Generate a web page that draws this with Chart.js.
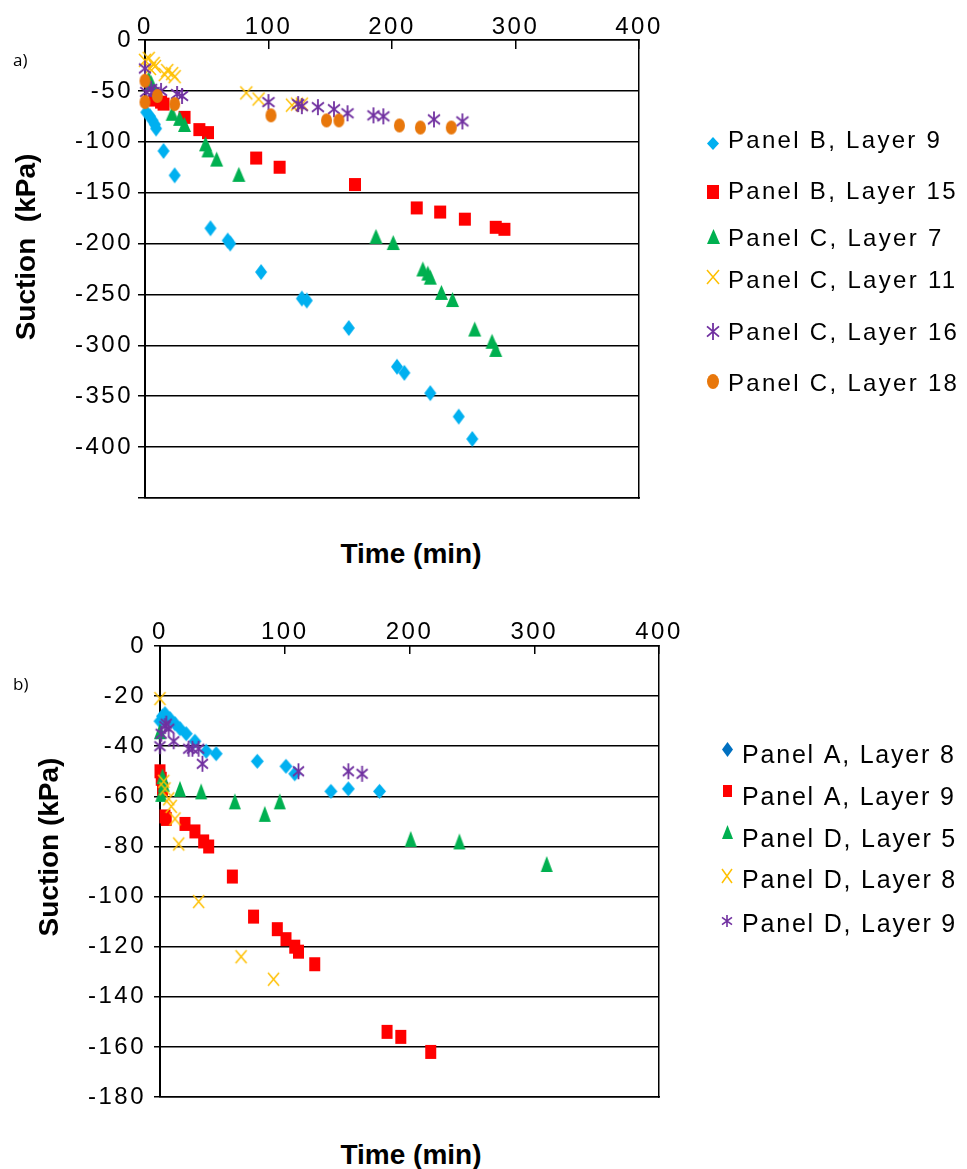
<!DOCTYPE html>
<html>
<head>
<meta charset="utf-8">
<script src="https://cdn.jsdelivr.net/npm/chart.js@4.4.0/dist/chart.umd.min.js"></script>
<style>
html,body{margin:0;padding:0;background:#fff;}
body{width:967px;height:1169px;position:relative;overflow:hidden;font-family:"Liberation Sans",Arial,sans-serif;color:#000;}
.wrap{position:absolute;left:0;}
.title{position:absolute;font-weight:bold;font-size:28px;line-height:32px;height:32px;text-align:center;white-space:pre;}
.rot{transform:rotate(-90deg);}
.panel{position:absolute;font-size:17px;line-height:20px;font-family:"Open Sans","Liberation Sans",sans-serif;}
</style>
</head>
<body>
<div class="wrap" style="top:0px"><canvas id="chartA" width="967" height="520"></canvas></div>
<div class="wrap" style="top:600px"><canvas id="chartB" width="967" height="520"></canvas></div>
<div class="panel" style="left:13px;top:50px;">a)</div>
<div class="panel" style="left:13px;top:674px;">b)</div>
<div class="title" style="left:311px;top:538px;width:200px;">Time (min)</div>
<div class="title" style="left:311px;top:1139px;width:200px;">Time (min)</div>
<div class="title rot" style="left:-104px;top:231px;width:260px;">Suction  (kPa)</div>
<div class="title rot" style="left:-81px;top:831px;width:260px;">Suction (kPa)</div>
<script>
// ---------- tick labels ----------
const xTickValues = [0, 100, 200, 300, 400];
const yTickValuesA = [0, -50, -100, -150, -200, -250, -300, -350, -400, -450];
const yTickLabelsA = ['0', '-50', '-100', '-150', '-200', '-250', '-300', '-350', '-400', ''];
const yTickValuesB = [0, -20, -40, -60, -80, -100, -120, -140, -160, -180];
const yTickLabelsB = ['0', '-20', '-40', '-60', '-80', '-100', '-120', '-140', '-160', '-180'];

// ---------- series names ----------
const seriesNamesA = ['Panel B, Layer 9', 'Panel B, Layer 15', 'Panel C, Layer 7', 'Panel C, Layer 11', 'Panel C, Layer 16', 'Panel C, Layer 18'];
const seriesNamesB = ['Panel A, Layer 8', 'Panel A, Layer 9', 'Panel D, Layer 5', 'Panel D, Layer 8', 'Panel D, Layer 9'];

// ---------- chart a) data (time min, suction kPa) ----------
const timeB9  = [1, 4, 6, 8, 9, 15, 24, 53, 67, 69, 94, 127, 131, 165, 204, 210, 231, 254, 265];
const suctB9  = [-71, -75, -79, -83, -87, -109, -133, -185, -197, -200, -228, -254, -256, -283, -321, -327, -347, -370, -392];
const timeB15 = [8, 13, 15, 32, 44, 51, 90, 109, 170, 220, 239, 259, 284, 291];
const suctB15 = [-59, -61, -63, -76, -88, -91, -116, -125, -142, -165, -169, -176, -184, -186];
const timeC7  = [3, 5, 22, 28, 32, 49, 51, 58, 76, 187, 201, 225, 229, 231, 240, 249, 267, 281, 284];
const suctC7  = [-38, -42, -72, -77, -83, -102, -108, -117, -132, -193, -199, -225, -229, -233, -248, -255, -284, -296, -304];
const timeC11 = [0, 3, 4, 7, 8, 16, 18, 22, 24, 82, 92, 119, 123, 127];
const suctC11 = [-20, -18, -28, -23, -26, -34, -30, -33, -36, -52, -58, -64, -63, -63];
const timeC16 = [0, 1, 5, 7, 13, 26, 30, 100, 124, 127, 140, 153, 164, 185, 193, 234, 257];
const suctC16 = [-28, -51, -48, -51, -50, -53, -55, -61, -63, -65, -66, -68, -72, -74, -75, -78, -80];
const timeC18 = [0, 0, 10, 24, 102, 147, 157, 206, 223, 248];
const suctC18 = [-40, -61, -55, -63, -74, -79, -79, -84, -86, -86];

// ---------- chart b) data ----------
const timeA8  = [0, 2, 4, 8, 12, 16, 21, 28, 37, 45, 78, 101, 108, 137, 151, 176];
const suctA8  = [-30, -28, -27, -29, -31, -33, -35, -38, -42, -43, -46, -48, -51, -58, -57, -58];
const timeA9  = [0, 1, 2, 4, 5, 20, 28, 35, 39, 58, 75, 94, 101, 108, 111, 124, 182, 193, 217];
const suctA9  = [-50, -53, -57, -68, -69, -71, -74, -78, -80, -92, -108, -113, -117, -120, -122, -127, -154, -156, -162];
const timeD5  = [0, 2, 1, 3, 16, 33, 60, 84, 96, 201, 240, 310];
const suctD5  = [-34, -52, -59, -55, -57, -58, -62, -67, -62, -77, -78, -87];
const timeD8  = [0, 3, 4, 7, 9, 12, 15, 31, 65, 91];
const suctD8  = [-21, -54, -57, -61, -64, -69, -79, -102, -124, -133];
const timeD9  = [0, 1, 4, 5, 7, 11, 23, 26, 31, 34, 111, 151, 162];
const suctD9  = [-40, -35, -32, -31, -33, -38, -41, -41, -41, -47, -50, -50, -51];

// ---------- styles ----------
const C_LBLUE = '#00B0F0', C_DBLUE = '#0070C0', C_RED = '#FF0000', C_GREEN = '#00B050',
      C_YELLOW = '#FFC000', C_PURPLE = '#7030A0', C_ORANGE = '#E8770B';
const FONT_FAMILY = '"Liberation Sans", Arial, sans-serif';

function marker(shape, color, w, h, lw) {
  const pad = 2;
  const c = document.createElement('canvas');
  c.width = w + 2 * pad; c.height = h + 2 * pad;
  const g = c.getContext('2d');
  g.translate(pad, pad);
  g.fillStyle = color; g.strokeStyle = color; g.lineWidth = lw || 1.6;
  g.beginPath();
  if (shape === 'diamond') { g.moveTo(w / 2, 0); g.lineTo(w, h / 2); g.lineTo(w / 2, h); g.lineTo(0, h / 2); g.closePath(); g.fill(); }
  else if (shape === 'square') { g.rect(0, 0, w, h); g.fill(); }
  else if (shape === 'triangle') { g.moveTo(w / 2, 0); g.lineTo(w, h); g.lineTo(0, h); g.closePath(); g.fill(); }
  else if (shape === 'ellipse') { g.ellipse(w / 2, h / 2, w / 2, h / 2, 0, 0, Math.PI * 2); g.fill(); }
  else if (shape === 'x') { g.moveTo(0, 0); g.lineTo(w, h); g.moveTo(w, 0); g.lineTo(0, h); g.stroke(); }
  else if (shape === 'asterisk') {
    g.moveTo(0, h * 0.2); g.lineTo(w, h * 0.8); g.moveTo(w, h * 0.2); g.lineTo(0, h * 0.8);
    g.moveTo(w / 2, 0); g.lineTo(w / 2, h); g.stroke();
  }
  return c;
}

const markersA = [
  marker('diamond', C_LBLUE, 12, 16), marker('square', C_RED, 12, 13), marker('triangle', C_GREEN, 13, 15),
  marker('x', C_YELLOW, 12, 13, 1.5), marker('asterisk', C_PURPLE, 12, 16, 1.8), marker('ellipse', C_ORANGE, 11, 14)
];
const legendMarkersA = [
  marker('diamond', C_LBLUE, 12, 13), marker('square', C_RED, 12, 14), marker('triangle', C_GREEN, 13, 15),
  marker('x', C_YELLOW, 12, 14, 1.5), marker('asterisk', C_PURPLE, 12, 17, 1.8), marker('ellipse', C_ORANGE, 12, 15)
];
const markersB = [
  marker('diamond', C_LBLUE, 13, 15), marker('square', C_RED, 11, 14), marker('triangle', C_GREEN, 12, 16),
  marker('x', C_YELLOW, 11, 13, 1.5), marker('asterisk', C_PURPLE, 11, 16, 1.8)
];
const legendMarkersB = [
  marker('diamond', C_DBLUE, 11, 15), marker('square', C_RED, 9, 12), marker('triangle', C_GREEN, 11, 14),
  marker('x', C_YELLOW, 10, 14, 1.5), marker('asterisk', C_PURPLE, 10, 12, 1.6)
];

function pts(xs, ys) { return xs.map((x, i) => ({ x: x, y: ys[i] })); }

function makeDatasets(names, series, markers) {
  const n = names.length;
  return names.map((name, i) => ({
    label: name,
    data: pts(series[i][0], series[i][1]),
    pointStyle: markers[i],
    pointRadius: 6,
    pointHoverRadius: 6,
    showLine: false,
    clip: false,
    order: n - i
  }));
}

// letter spacing + legend plugin
const markerLegend = {
  id: 'markerLegend',
  beforeLayout(chart, args, opts) { chart.ctx.letterSpacing = opts.tickSpacing; },
  beforeDraw(chart, args, opts) { chart.ctx.letterSpacing = opts.tickSpacing; },
  afterDraw(chart, args, opts) {
    const ctx = chart.ctx;
    ctx.save();
    ctx.letterSpacing = opts.textSpacing;
    ctx.font = opts.fontSize + 'px ' + FONT_FAMILY;
    ctx.fillStyle = '#000';
    ctx.textAlign = 'left';
    ctx.textBaseline = 'alphabetic';
    chart.data.datasets.forEach((ds, i) => {
      const m = opts.markers[i];
      ctx.drawImage(m, Math.round(opts.markerX - m.width / 2), Math.round(opts.markerY[i] - m.height / 2));
      ctx.fillText(ds.label, opts.textX, opts.baselines[i]);
    });
    ctx.restore();
  }
};

function scalesFor(cfg) {
  const tickFont = { family: FONT_FAMILY, size: 24 };
  return {
    x: {
      type: 'linear', position: 'top', min: 0, max: 400,
      afterBuildTicks: s => { s.ticks = xTickValues.map(v => ({ value: v })); },
      ticks: { font: tickFont, color: '#000', padding: cfg.xPad, maxRotation: 0, autoSkip: false,
               callback: (v, i) => String(xTickValues[i]) },
      grid: { drawOnChartArea: false, drawTicks: true, tickLength: cfg.xTick, color: '#000', lineWidth: 1.5 },
      border: { display: true, color: '#000', width: 1.5 },
      afterFit: s => { s.height = cfg.xH; }
    },
    x2: {
      type: 'linear', position: 'bottom', min: 0, max: 400,
      ticks: { display: false }, grid: { display: false },
      border: { display: true, color: '#000', width: 1.5 },
      afterFit: s => { s.height = 0; }
    },
    y: {
      type: 'linear', position: 'left', min: cfg.yVals[cfg.yVals.length - 1], max: 0,
      afterBuildTicks: s => { s.ticks = cfg.yVals.map(v => ({ value: v })); },
      ticks: { font: tickFont, color: '#000', padding: cfg.yPad, autoSkip: false,
               callback: (v, i) => cfg.yLabels[i] },
      grid: { color: '#000', lineWidth: 1.5, tickLength: cfg.yTick, drawTicks: true },
      border: { display: true, color: '#000', width: 2 },
      afterFit: s => { s.width = cfg.yW; }
    },
    y2: {
      type: 'linear', position: 'right', min: cfg.yVals[cfg.yVals.length - 1], max: 0,
      ticks: { display: false }, grid: { display: false },
      border: { display: true, color: '#000', width: 1.5 },
      afterFit: s => { s.width = 0; }
    }
  };
}

new Chart(document.getElementById('chartA'), {
  type: 'scatter',
  data: {
    datasets: makeDatasets(seriesNamesA,
      [[timeB9, suctB9], [timeB15, suctB15], [timeC7, suctC7], [timeC11, suctC11], [timeC16, suctC16], [timeC18, suctC18]],
      markersA)
  },
  plugins: [markerLegend],
  options: {
    responsive: false, animation: false, events: [],
    layout: { padding: { left: 0, top: 0, right: 328, bottom: 22 } },
    scales: scalesFor({ xPad: 7, xTick: -9, xH: 40, yVals: yTickValuesA, yLabels: yTickLabelsA, yPad: 5, yTick: 7, yW: 145 }),
    plugins: {
      legend: { display: false }, tooltip: { enabled: false },
      markerLegend: {
        tickSpacing: '2.5px', textSpacing: '2.3px', fontSize: 24,
        markers: legendMarkersA, markerX: 713, textX: 728,
        markerY: [143, 192, 236, 277, 331, 381],
        baselines: [148, 199, 246, 288, 340, 391]
      }
    }
  }
});

new Chart(document.getElementById('chartB'), {
  type: 'scatter',
  data: {
    datasets: makeDatasets(seriesNamesB,
      [[timeA8, suctA8], [timeA9, suctA9], [timeD5, suctD5], [timeD8, suctD8], [timeD9, suctD9]],
      markersB)
  },
  plugins: [markerLegend],
  options: {
    responsive: false, animation: false, events: [],
    layout: { padding: { left: 0, top: 0, right: 308, bottom: 23 } },
    scales: scalesFor({ xPad: 7, xTick: -8, xH: 46, yVals: yTickValuesB, yLabels: yTickLabelsB, yPad: 8, yTick: 6, yW: 160 }),
    plugins: {
      legend: { display: false }, tooltip: { enabled: false },
      markerLegend: {
        tickSpacing: '2.5px', textSpacing: '1.8px', fontSize: 25,
        markers: legendMarkersB, markerX: 727, textX: 742,
        markerY: [149, 191, 232, 276, 321],
        baselines: [163, 205, 247, 288, 332]
      }
    }
  }
});
</script>
</body>
</html>
